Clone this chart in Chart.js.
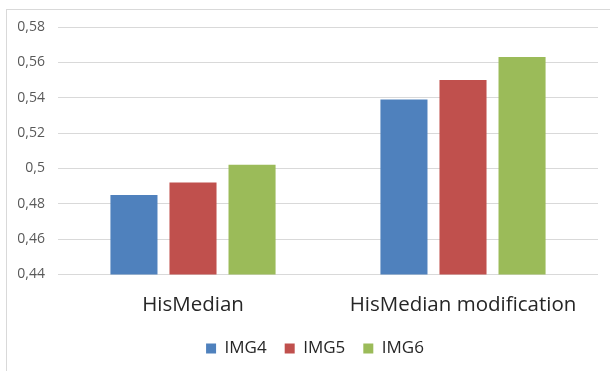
<!DOCTYPE html>
<html>
<head>
<meta charset="utf-8">
<script src="https://cdn.jsdelivr.net/npm/chart.js@4/dist/chart.umd.min.js"></script>
<style>
  html, body { margin: 0; padding: 0; background: #fff; }
  #wrap { position: relative; width: 610px; height: 371px; overflow: hidden; }
  #frame { position: absolute; left: 6px; top: 9px; width: 700px; height: 500px;
           border-top: 1px solid #d9d9d9; border-left: 1px solid #d9d9d9; }
  #c { position: absolute; left: 0; top: 0; }
</style>
</head>
<body>
<div id="wrap">
  <div id="frame"></div>
  <canvas id="c" width="610" height="371"></canvas>
</div>
<script>
const categories = ['HisMedian', 'HisMedian modification'];
const img4 = [0.485, 0.539];
const img5 = [0.492, 0.550];
const img6 = [0.502, 0.563];
const yTickLabels = ['0,44', '0,46', '0,48', '0,5', '0,52', '0,54', '0,56', '0,58'];
const seriesNames = ['IMG4', 'IMG5', 'IMG6'];

const FONT = "'Open Sans', sans-serif";

// nudge the legend row to the right of the plot's centre
const legendShift = {
  id: 'legendShift',
  afterLayout(chart) {
    if (chart.legend) {
      chart.legend.left += 16;
      chart.legend.right += 16;
    }
  }
};

new Chart(document.getElementById('c'), {
  type: 'bar',
  data: {
    labels: categories,
    datasets: [
      { label: seriesNames[0], data: img4, backgroundColor: '#4f81bd' },
      { label: seriesNames[1], data: img5, backgroundColor: '#c0504d' },
      { label: seriesNames[2], data: img6, backgroundColor: '#9bbb59' }
    ]
  },
  plugins: [legendShift],
  options: {
    responsive: false,
    animation: false,
    devicePixelRatio: 1,
    categoryPercentage: 0.656,
    barPercentage: 0.797,
    layout: { padding: { left: 0, right: 12, top: 27, bottom: 4 } },
    plugins: {
      tooltip: { enabled: false },
      legend: {
        position: 'bottom',
        labels: {
          boxWidth: 10, boxHeight: 10, padding: 18,
          color: '#262626',
          font: { family: FONT, size: 17 }
        }
      }
    },
    scales: {
      x: {
        grid: { display: false },
        border: { display: false },
        afterFit: (s) => { s.height -= 5; },
        ticks: { color: '#262626', font: { family: FONT, size: 20.5 }, padding: 10 }
      },
      y: {
        min: 0.44, max: 0.58,
        afterFit: (s) => { s.width = 58; },
        border: { display: false },
        grid: { color: '#d9d9d9', lineWidth: 1, drawTicks: false },
        ticks: {
          stepSize: 0.02,
          padding: 13,
          color: '#595959',
          font: { family: FONT, size: 14 },
          callback: (v, i) => yTickLabels[i]
        }
      }
    }
  }
});
</script>
</body>
</html>
